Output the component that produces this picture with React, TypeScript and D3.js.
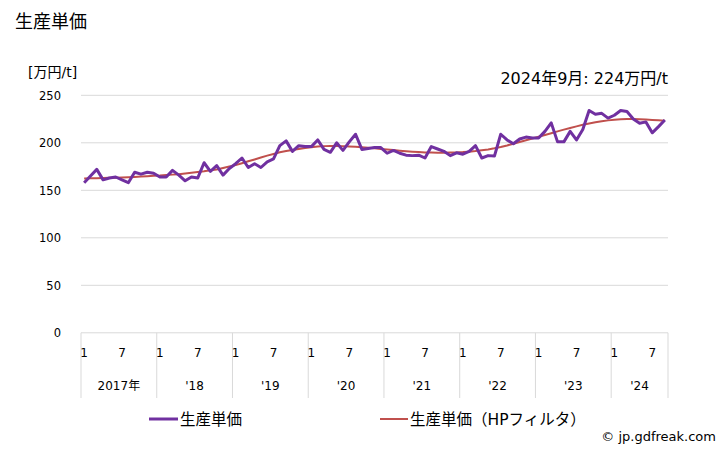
import React from "react";
import * as d3 from "d3";

const yTicks = [0, 50, 100, 150, 200, 250];
const yearLabels = ["2017年", "'18", "'19", "'20", "'21", "'22", "'23", "'24"];
const monthTickLabels = ["1", "7"];

const price = [
  158, 165, 172, 161, 163, 164, 161, 158, 169, 167, 169, 168,
  164, 164, 171, 166, 160, 164, 163, 179, 170, 176, 166, 173,
  178, 184, 174, 178, 174, 180, 183, 197, 202, 191, 197, 196,
  196, 203, 193, 190, 200, 192, 201, 209, 193, 194, 195, 195,
  189, 192, 189, 187, 186.5, 187, 184, 196, 193.5, 191, 186.5, 189.5,
  188, 191, 197, 184, 186.5, 186, 209, 203, 199, 204, 206, 205,
  205, 212, 221, 201, 201, 212, 203, 214, 234, 230, 231, 226,
  229, 234, 233, 225, 220.5, 222, 210.5, 217, 224,
];

const hpTrend = [
  162.5, 162.6, 162.7, 162.9, 163.1, 163.3, 163.5, 163.8, 164.1, 164.4, 164.8, 165.2,
  165.5, 166, 166.5, 167, 167.7, 168.4, 169.2, 170, 171, 172, 173.5, 175,
  176.5, 178.5, 180.5, 182.5, 184.5, 186.5, 188.3, 190, 191.3, 192.5, 193.5, 194.5,
  195.3, 196, 196.5, 196.7, 196.7, 196.5, 196.2, 195.8, 195.3, 194.8, 194.2, 193.6,
  193, 192.3, 191.7, 191.1, 190.6, 190.2, 189.9, 189.7, 189.6, 189.6, 189.7, 189.9,
  190.2, 190.7, 191.3, 192.1, 193, 194.2, 195.6, 197.2, 199, 200.8, 202.6, 204.5,
  206.3, 208.2, 210.1, 212, 213.9, 215.6, 217.3, 218.9, 220.3, 221.6, 222.7, 223.6,
  224.3, 224.8, 225, 225, 224.8, 224.5, 224.1, 223.7, 223.3,
];

const FONT = "'DejaVu Sans', 'Noto Sans CJK JP', sans-serif";

export default function App() {
  const W = 728, H = 450;
  const left = 81, right = 668, top = 95.3, bottom = 332.8;
  const n = price.length;
  const x = d3.scaleBand<number>().domain(d3.range(n)).range([left, right]).padding(0);
  const cx = (i: number) => (x(i) as number) + x.bandwidth() / 2;
  const y = d3.scaleLinear().domain([0, 250]).range([bottom, top]);

  const line = d3.line<number>().x((_, i) => cx(i)).y((d) => y(d));

  const years = d3.range(yearLabels.length);
  const yearStart = (k: number) => x(k * 12) as number;
  const yearEnd = (k: number) => {
    const lastIdx = Math.min(k * 12 + 11, n - 1);
    return (x(lastIdx) as number) + x.bandwidth();
  };

  return (
    <svg width={W} height={H} style={{ position: "absolute", left: 0, top: 0, fontFamily: FONT }}>
      <rect x={0} y={0} width={W} height={H} fill="#fff" />
      <text x={15} y={28} fontSize={18} fill="#000">生産単価</text>
      <text x={28} y={77} fontSize={14} fill="#000">[万円/t]</text>
      <text x={668} y={84} fontSize={16} textAnchor="end" fill="#000">2024年9月: 224万円/t</text>

      {yTicks.map((t) => (
        <g key={t}>
          <line x1={left} x2={right} y1={y(t)} y2={y(t)} stroke="#d9d9d9" strokeWidth={1} />
          <text x={61} y={y(t) + 4.5} fontSize={11.5} textAnchor="end" fill="#000">{t}</text>
        </g>
      ))}

      {years.map((k) => {
        const x0 = yearStart(k);
        const x1 = yearEnd(k);
        return (
          <g key={k}>
            <line x1={x0} x2={x0} y1={bottom} y2={398} stroke="#d9d9d9" strokeWidth={1} />
            {monthTickLabels.map((m) => {
              const idx = k * 12 + (+m - 1);
              if (idx >= n) return null;
              return (
                <text key={m} x={cx(idx)} y={357} fontSize={12} textAnchor="middle" fill="#000">{m}</text>
              );
            })}
            <text x={(x0 + x1) / 2} y={390} fontSize={12} textAnchor="middle" fill="#000">{yearLabels[k]}</text>
          </g>
        );
      })}
      <line x1={right} x2={right} y1={bottom} y2={398} stroke="#d9d9d9" strokeWidth={1} />

      <path d={line(hpTrend) ?? ""} fill="none" stroke="#c0504d" strokeWidth={2} />
      <path d={line(price) ?? ""} fill="none" stroke="#7030a0" strokeWidth={3} strokeLinejoin="round" />

      <line x1={149} x2={178} y1={419} y2={419} stroke="#7030a0" strokeWidth={3} />
      <text x={180} y={424.5} fontSize={15.5} fill="#000">生産単価</text>
      <line x1={380} x2={408} y1={419} y2={419} stroke="#c0504d" strokeWidth={2} />
      <text x={410} y={424.5} fontSize={15.5} fill="#000">生産単価（HPフィルタ）</text>
      <text x={716} y={441} fontSize={13} textAnchor="end" fill="#000">© jp.gdfreak.com</text>
    </svg>
  );
}
